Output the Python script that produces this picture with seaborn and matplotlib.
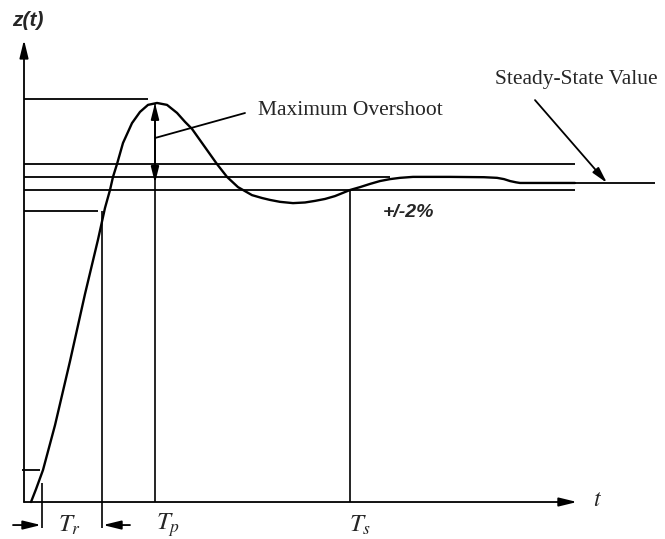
import matplotlib
matplotlib.use("Agg")
import matplotlib.pyplot as plt
import numpy as np
import pandas as pd
import seaborn as sns

# ---- data (t in time units, z normalised so steady state ~ 1) ----
curve_t = [0.14, 0.24, 0.38, 0.62, 0.92, 1.22, 1.48, 1.62, 1.72, 1.78, 1.86, 1.98,
           2.16, 2.32, 2.48, 2.66, 2.86, 3.06, 3.22, 3.36, 3.56, 3.76, 3.86, 4.06,
           4.28, 4.56, 4.76, 4.92, 5.12, 5.38, 5.62, 5.82, 6.02, 6.22, 6.52, 6.72,
           6.92, 7.12, 7.32, 7.52, 7.78, 8.52, 9.20, 9.46, 9.60, 9.72, 9.84, 9.92,
           11.02]
curve_z = [0.00, 0.04, 0.10, 0.24, 0.44, 0.65, 0.82, 0.919, 0.975, 1.016, 1.056, 1.122,
           1.184, 1.219, 1.241, 1.247, 1.241, 1.216, 1.188, 1.166, 1.122, 1.078, 1.056, 1.016,
           0.984, 0.959, 0.950, 0.944, 0.938, 0.934, 0.936, 0.941, 0.947, 0.956, 0.975, 0.984,
           0.994, 1.003, 1.009, 1.013, 1.016, 1.016, 1.015, 1.013, 1.009, 1.003, 0.999, 0.997,
           0.997]

# horizontal reference lines: peak, +2%, mid, -2%, 90%, 10% tick, steady-state
hline_z = [1.26, 1.055, 1.016, 0.975, 0.91, 0.10, 0.997]
hline_t0 = [0.0, 0.0, 0.0, 0.0, 0.0, -0.04, 9.90]
hline_t1 = [2.48, 11.02, 7.32, 11.02, 1.48, 0.32, 12.62]

# vertical markers: Tr start, Tr end, Tp, Ts
vline_t = [0.36, 1.56, 2.62, 6.52]
vline_z0 = [0.06, 0.91, 1.247, 0.975]
vline_z1 = [-0.08, -0.08, 0.0, 0.0]

time_labels = [r"$T_r$", r"$T_p$", r"$T_s$"]
time_label_t = [0.92, 2.88, 6.72]

overshoot_t = 2.62
peak_z = 1.247
steady_z = 0.997

sns.set_theme(style="white")
plt.rcParams["font.family"] = ["Liberation Serif", "DejaVu Serif"]
plt.rcParams["mathtext.fontset"] = "stix"

fig = plt.figure(figsize=(6.65, 5.39), dpi=100)
ax = fig.add_axes([0, 0, 1, 1])
ax.set_xlim(-0.48, 12.82)
ax.set_ylim(-0.1156, 1.56875)
ax.axis("off")

df = pd.DataFrame({"t": curve_t, "z": curve_z})
sns.lineplot(data=df, x="t", y="z", sort=False, estimator=None,
             color="black", lw=1.7, ax=ax)

ax.hlines(hline_z, hline_t0, hline_t1, color="black", lw=1.3)
ax.vlines(vline_t, vline_z0, vline_z1, color="black", lw=1.2)

ap = dict(arrowstyle="-|>,head_length=0.9,head_width=0.22", color="black",
          lw=1.3, shrinkA=0, shrinkB=0)
# axes
ax.annotate("", xy=(0, 1.444), xytext=(0, 0), arrowprops=ap)
ax.annotate("", xy=(11.06, 0), xytext=(0, 0), arrowprops=ap)

# overshoot double arrow
ax.annotate("", xy=(overshoot_t, peak_z), xytext=(overshoot_t, steady_z),
            arrowprops=dict(arrowstyle="<|-|>,head_length=0.8,head_width=0.2",
                            color="black", lw=1.3, shrinkA=0, shrinkB=0))
ax.plot([overshoot_t, 4.42], [1.1375, 1.2156], color="black", lw=1.3)
ax.text(4.68, 1.225, "Maximum Overshoot", fontsize=15.5, ha="left", va="center")

# steady-state annotation
ax.annotate("", xy=(11.66, steady_z), xytext=(10.22, 1.256),
            arrowprops=dict(arrowstyle="-|>,head_length=0.8,head_width=0.2",
                            color="black", lw=1.3, shrinkA=0, shrinkB=0))
ax.text(9.42, 1.319, "Steady-State Value", fontsize=15.5, ha="left", va="center")

ax.text(7.18, 0.906, "+/-2%", fontsize=14, ha="left", va="center",
        family=["Liberation Sans", "DejaVu Sans"], style="italic", weight="bold")

ax.text(-0.24, 1.506, "z(t)", fontsize=15, ha="left", va="center",
        family=["Liberation Sans", "DejaVu Sans"], style="italic", weight="bold")
ax.text(11.38, 0.006, r"$t$", fontsize=17, ha="left", va="center")

for lab, tt in zip(time_labels, time_label_t):
    ax.text(tt, -0.072, lab, fontsize=18, ha="center", va="center")

# rise-time arrows
ax.annotate("", xy=(0.34, -0.072), xytext=(-0.22, -0.072), arrowprops=ap)
ax.annotate("", xy=(1.58, -0.072), xytext=(2.12, -0.072), arrowprops=ap)

fig.savefig("out.png", dpi=100)
